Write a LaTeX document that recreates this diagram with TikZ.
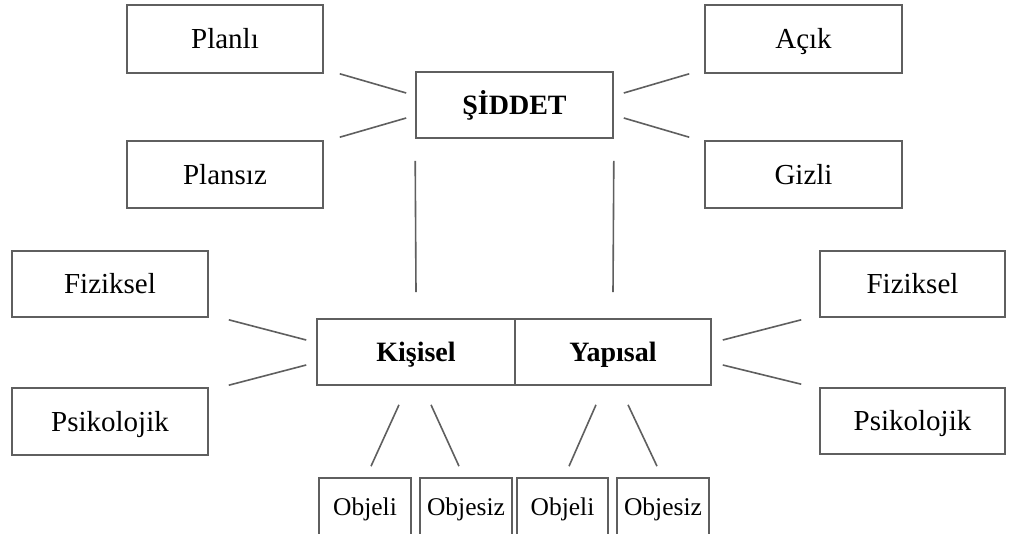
\documentclass[tikz,border=0pt]{standalone}
\usepackage{fontspec}
\setmainfont{Liberation Serif}
\usepackage{xcolor}
\usepackage{tikz}
\usetikzlibrary{calc}

\definecolor{linegray}{RGB}{95,95,95}

\tikzset{
  box/.style={draw=linegray, line width=1.6pt, rectangle, inner sep=0pt,
    text height=19pt, text depth=0pt,
    minimum width=196pt, minimum height=67pt, font=\fontsize{29}{32}\selectfont},
  bbox/.style={box, font=\fontsize{28}{31}\selectfont\bfseries},
  sbox/.style={box, minimum width=92pt, minimum height=58pt, text height=17pt,
    font=\fontsize{25.5}{28}\selectfont},
  conn/.style={draw=linegray, line width=1.6pt}
}

\begin{document}
\begin{tikzpicture}[x=1pt,y=-1pt]
       \useasboundingbox[fill=white] (0,0) rectangle (1011,533);

       \node[box, minimum height=68pt] (planli) at (225,39) {Planlı};
       \node[box] (plansiz) at (225,174.5) {Plansız};
       \node[bbox, minimum width=197pt, minimum height=66pt] (siddet) at (514.5,105) {ŞİDDET};
       \node[box, minimum width=197pt, minimum height=68pt] (acik) at (803.5,39) {Açık};
       \node[box, minimum width=197pt] (gizli) at (803.5,174.5) {Gizli};

       \node[box, minimum height=66pt] (fizL) at (110,284) {Fiziksel};
       \node[box] (psiL) at (110,421.5) {Psikolojik};
       \node[bbox, minimum width=198pt, minimum height=66pt] (kisisel) at (416,352) {Kişisel};
       \node[bbox, minimum height=66pt] (yapisal) at (613,352) {Yapısal};
       \node[box, minimum width=185pt, minimum height=66pt] (fizR) at (912.5,284) {Fiziksel};
       \node[box, minimum width=185pt, minimum height=66pt] (psiR) at (912.5,421) {Psikolojik};

       \node[sbox] (objeliK) at (365,507) {Objeli};
       \node[sbox] (objesizK) at (466,507) {Objesiz};
       \node[sbox, minimum width=91pt] (objeliY) at (562.5,507) {Objeli};
       \node[sbox] (objesizY) at (663,507) {Objesiz};

       % top
       \draw[conn] ($(planli.south east)+(16,0)$) -- ($(siddet.west)+(-9,-12)$);
       \draw[conn] ($(plansiz.north east)+(16,-3)$) -- ($(siddet.west)+(-9,13)$);
       \draw[conn] ($(siddet.east)+(10,-12)$) -- ($(acik.south west)+(-15,0)$);
       \draw[conn] ($(siddet.east)+(10,13)$) -- ($(gizli.north west)+(-15,-3)$);

       \draw[conn] ($(siddet.south west)+(0,22)$) -- ($(kisisel.north)+(0,-26)$);
       \draw[conn] ($(siddet.south east)+(0,22)$) -- ($(yapisal.north)+(0,-26)$);

       % sides
       \draw[conn] ($(fizL.south east)+(20,2)$) -- ($(kisisel.west)+(-10,-12)$);
       \draw[conn] ($(psiL.north east)+(20,-2)$) -- ($(kisisel.west)+(-10,13)$);
       \draw[conn] ($(yapisal.east)+(11,-12)$) -- ($(fizR.south west)+(-18,2)$);
       \draw[conn] ($(yapisal.east)+(11,13)$) -- ($(psiR.north west)+(-18,-3)$);

       % bottom
       \draw[conn] ($(kisisel.south)+(-17,19)$) -- ($(objeliK.north)+(6,-11)$);
       \draw[conn] ($(kisisel.south)+(15,19)$) -- ($(objesizK.north)+(-7,-11)$);
       \draw[conn] ($(yapisal.south)+(-17,19)$) -- ($(objeliY.north)+(6.5,-11)$);
       \draw[conn] ($(yapisal.south)+(15,19)$) -- ($(objesizY.north)+(-6,-11)$);
\end{tikzpicture}
\end{document}
